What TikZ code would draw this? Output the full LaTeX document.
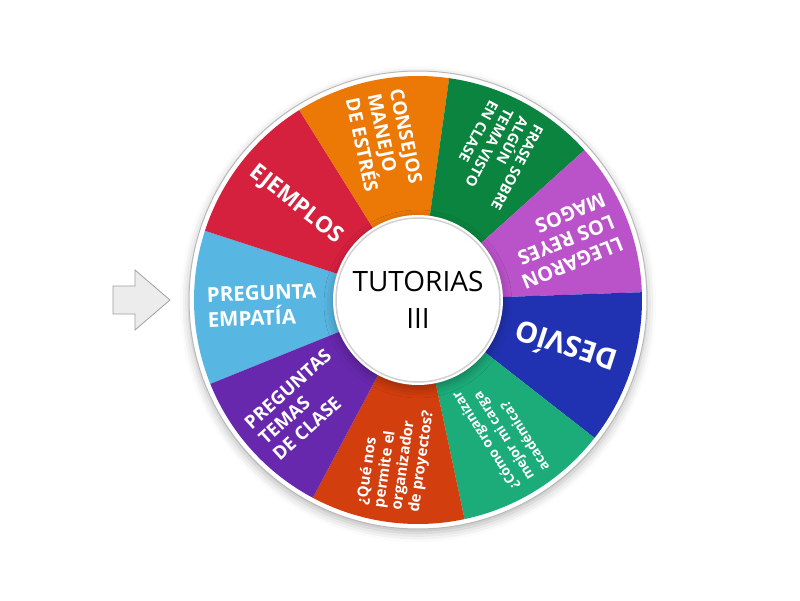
\documentclass[tikz,border=0pt]{standalone}
\usepackage{fontspec}
\setmainfont{Open Sans}
\usetikzlibrary{shadows.blur}
\definecolor{segsky}{RGB}{88,182,226}
\definecolor{segred}{RGB}{213,32,62}
\definecolor{segorange}{RGB}{236,120,6}
\definecolor{seggreen}{RGB}{10,132,62}
\definecolor{segmagenta}{RGB}{186,82,202}
\definecolor{segblue}{RGB}{32,50,178}
\definecolor{segteal}{RGB}{28,172,122}
\definecolor{segrust}{RGB}{210,62,14}
\definecolor{segpurple}{RGB}{104,40,174}
\definecolor{pointerline}{RGB}{160,160,160}
\tikzset{
  seglabel/.style={text=white, anchor=west, align=left, inner sep=0pt, font=\bfseries},
  softshadow/.style={blur shadow={shadow xshift=0pt, shadow yshift=-4pt, shadow blur radius=9pt, shadow opacity=28}}
}
\begin{document}
\begin{tikzpicture}[x=1pt,y=1pt]
\useasboundingbox (-418,-300) rectangle (382,300);
% rim of the wheel
\fill[white, softshadow] (0,0) circle (229);
\draw[gray!55, line width=1] (0,0) circle (229);
% the nine slices
\foreach \a/\c in {182/segsky, 142/segred, 102/segorange, 62/seggreen, 22/segmagenta,
                   -18/segblue, -58/segteal, -98/segrust, -138/segpurple}
  \fill[\c] (0,0) -- (\a-20:224) arc[start angle=\a-20, end angle=\a+20, radius=224] -- cycle;
% slice texts
\node[seglabel, rotate=2, font=\bfseries\fontsize{20.5}{25}\selectfont] (empatia) at (182:211) {PREGUNTA\\EMPATÍA};
\node[seglabel, rotate=-38, font=\bfseries\fontsize{22.5}{26}\selectfont] (ejemplos) at (142:211) {EJEMPLOS};
\node[seglabel, rotate=-78, font=\bfseries\fontsize{19}{22.5}\selectfont] (consejos) at (102:211) {CONSEJOS\\MANEJO\\DE ESTRÉS};
\node[seglabel, rotate=-118, font=\bfseries\fontsize{14.5}{17}\selectfont] (frase) at (62:211) {FRASE SOBRE\\ALGÚN\\TEMA VISTO\\EN CLASE};
\node[seglabel, rotate=202, font=\bfseries\fontsize{20}{23.5}\selectfont] (reyes) at (22:211) {LLEGARON\\LOS REYES\\MAGOS};
\node[seglabel, rotate=162, font=\bfseries\fontsize{29}{33}\selectfont] (desvio) at (-18:208) {DESVÍO};
\node[seglabel, rotate=122, font=\bfseries\fontsize{13.6}{18}\selectfont] (carga) at (-58:212) {¿Cómo organizar\\mejor mi carga\\académica?};
\node[seglabel, rotate=82, font=\bfseries\fontsize{15}{17.5}\selectfont] (organizador) at (-98:211) {¿Qué nos\\permite el\\organizador\\de proyectos?};
\node[seglabel, rotate=42, font=\bfseries\fontsize{18.5}{21}\selectfont] (temas) at (-138:211) {PREGUNTAS\\TEMAS\\DE CLASE};
% hub
\fill[white, softshadow] (0,0) circle (85);
\draw[gray!35, line width=1.5] (0,0) circle (82);
\node[align=center, font=\fontsize{28}{37}\selectfont] (hub) at (0,0) {TUTORIAS\\III};
% pointer
\draw[pointerline, fill=gray!15, line width=0.8, line join=miter]
  (-305,14) -- (-283,14) -- (-283,30) -- (-248,0) -- (-283,-30) -- (-283,-14) -- (-305,-14) -- cycle;
\end{tikzpicture}
\end{document}
